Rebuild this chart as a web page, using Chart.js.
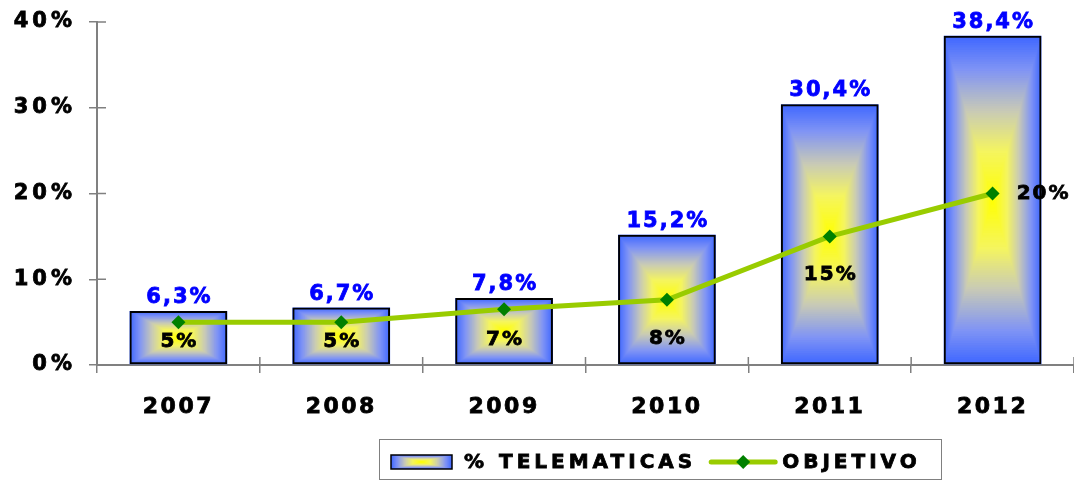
<!DOCTYPE html>
<html>
<head>
<meta charset="utf-8">
<script src="https://cdn.jsdelivr.net/npm/chart.js@4"></script>
<style>
  html, body { margin: 0; padding: 0; background: #fff; }
  canvas { display: block; }
</style>
</head>
<body>
<canvas id="telematicasChart" width="1074" height="480"></canvas>
<script>
const years = ['2007', '2008', '2009', '2010', '2011', '2012'];
const telematicas = [6.3, 6.7, 7.8, 15.2, 30.4, 38.4];
const objetivo = [5, 5, 6.5, 7.6, 15, 20];
const yTickValues = [0, 10, 20, 30, 40];
const seriesNames = ['% TELEMATICAS', 'OBJETIVO'];

const FAMILY = '"DejaVu Sans"';

// colour of the "from centre" fill, t = 0 centre, t = 1 edge
const gradStops = [
  [0, [255, 255, 0]],
  [0.3, [245, 245, 95]],
  [0.55, [200, 202, 182]],
  [0.8, [128, 148, 245]],
  [1, [64, 104, 255]]
];

function gradColor(t) {
  for (let i = 1; i < gradStops.length; i++) {
    if (t <= gradStops[i][0]) {
      const a = gradStops[i - 1], b = gradStops[i];
      const f = (t - a[0]) / (b[0] - a[0]);
      const c = a[1].map((v, k) => Math.round(v + (b[1][k] - v) * f));
      return 'rgb(' + c.join(',') + ')';
    }
  }
  return 'rgb(' + gradStops[gradStops.length - 1][1].join(',') + ')';
}

function paintRectGradient(ctx, left, top, w, h) {
  const cx = left + w / 2, cy = top + h / 2;
  const steps = 70;
  for (let k = steps; k >= 1; k--) {
    const t = k / steps;
    ctx.fillStyle = gradColor(t);
    ctx.fillRect(cx - w / 2 * t, cy - h / 2 * t, w * t, h * t);
  }
}

function fmtBar(v) {
  return v.toFixed(1).replace('.', ',') + '%';
}

function fmtObj(v) {
  return Math.round(v) + '%';
}

// wrap a scale's label drawing so its text gets letter spacing
function spaced(px) {
  return s => {
    if (s._spacedWrap) return;
    s._spacedWrap = true;
    const orig = s.drawLabels;
    s.drawLabels = function (area) {
      this.ctx.save();
      this.ctx.letterSpacing = px;
      orig.call(this, area);
      this.ctx.restore();
    };
  };
}

function noPadding(s) {
  s.paddingTop = 0;
  s.paddingBottom = 0;
  s.paddingLeft = 0;
  s.paddingRight = 0;
}

const barFill = {
  id: 'barFill',
  beforeDatasetDraw(chart, args) {
    if (args.meta.type !== 'bar') return;
    const ctx = chart.ctx;
    ctx.save();
    args.meta.data.forEach(el => {
      const p = el.getProps(['x', 'y', 'base', 'width'], true);
      paintRectGradient(ctx, p.x - p.width / 2, p.y, p.width, p.base - p.y);
    });
    ctx.restore();
  }
};

const innerTicks = {
  id: 'innerTicks',
  beforeDatasetsDraw(chart) {
    const { ctx, scales: { x, y } } = chart;
    ctx.save();
    ctx.strokeStyle = '#808080';
    ctx.lineWidth = 1.5;
    ctx.beginPath();
    y.ticks.forEach((t, i) => {
      const py = y.getPixelForTick(i);
      ctx.moveTo(x.left, py);
      ctx.lineTo(x.left + 9, py);
    });
    const n = x.ticks.length;
    for (let i = 0; i <= n; i++) {
      const px = x.left + i * x.width / n;
      ctx.moveTo(px, y.bottom);
      ctx.lineTo(px, y.bottom - 8);
    }
    ctx.stroke();
    ctx.restore();
  }
};

// where the OBJETIVO labels sit relative to their point
const objLabelPos = [
  { dx: 0, dy: 20 }, { dx: 0, dy: 20 }, { dx: 0, dy: 31 },
  { dx: 0, dy: 39 }, { dx: 0, dy: 38 }, { dx: 50, dy: 0 }
];

const valueLabels = {
  id: 'valueLabels',
  afterDatasetsDraw(chart) {
    const ctx = chart.ctx;
    ctx.save();
    ctx.textAlign = 'center';

    const barMeta = chart.getDatasetMeta(0);
    ctx.letterSpacing = '2px';
    ctx.font = 'bold 21px ' + FAMILY;
    ctx.fillStyle = '#0000ff';
    ctx.textBaseline = 'alphabetic';
    ctx.lineWidth = 0.8;
    ctx.strokeStyle = '#0000ff';
    barMeta.data.forEach((el, i) => {
      const s = fmtBar(telematicas[i]);
      ctx.fillText(s, el.x + 1, el.y - 8);
      ctx.strokeText(s, el.x + 1, el.y - 8);
    });

    const lineMeta = chart.getDatasetMeta(1);
    ctx.letterSpacing = '2px';
    ctx.font = 'bold 20px ' + FAMILY;
    ctx.fillStyle = '#000';
    ctx.strokeStyle = '#000';
    ctx.textBaseline = 'middle';
    lineMeta.data.forEach((el, i) => {
      const pos = objLabelPos[i];
      const s = fmtObj(objetivo[i]);
      ctx.fillText(s, el.x + pos.dx + 1, el.y + pos.dy);
      ctx.strokeText(s, el.x + pos.dx + 1, el.y + pos.dy);
    });
    ctx.restore();
  }
};

const boxLegend = {
  id: 'boxLegend',
  afterDraw(chart, args, opts) {
    const ctx = chart.ctx;
    const ds = chart.data.datasets;
    const cy = opts.top + opts.height / 2 + 3;
    ctx.save();
    ctx.letterSpacing = '4px';
    ctx.font = 'bold 20px ' + FAMILY;
    ctx.textBaseline = 'middle';
    ctx.textAlign = 'left';

    let x = opts.left + 12;
    // bar entry
    paintRectGradient(ctx, x, cy - 7, 61, 14);
    ctx.strokeStyle = '#000';
    ctx.lineWidth = 1.5;
    ctx.strokeRect(x, cy - 7, 61, 14);
    x += 61 + 12;
    ctx.fillStyle = '#000';
    ctx.lineWidth = 0.8;
    ctx.fillText(ds[0].label, x, cy + 1);
    ctx.strokeText(ds[0].label, x, cy + 1);
    x += ctx.measureText(ds[0].label).width + 13;

    // line entry
    ctx.strokeStyle = ds[1].borderColor;
    ctx.lineWidth = ds[1].borderWidth;
    ctx.lineCap = 'round';
    ctx.beginPath();
    ctx.moveTo(x + 2, cy);
    ctx.lineTo(x + 66, cy);
    ctx.stroke();
    ctx.fillStyle = ds[1].pointBackgroundColor;
    ctx.beginPath();
    ctx.moveTo(x + 34, cy - 7);
    ctx.lineTo(x + 41, cy);
    ctx.lineTo(x + 34, cy + 7);
    ctx.lineTo(x + 27, cy);
    ctx.closePath();
    ctx.fill();
    x += 68 + 5;
    ctx.fillStyle = '#000';
    ctx.strokeStyle = '#000';
    ctx.lineWidth = 0.8;
    ctx.fillText(ds[1].label, x, cy + 1);
    ctx.strokeText(ds[1].label, x, cy + 1);
    const right = x + ctx.measureText(ds[1].label).width + 12;

    ctx.strokeStyle = '#808080';
    ctx.lineWidth = 1;
    ctx.strokeRect(opts.left + 0.5, opts.top + 0.5, Math.max(right, 941) - opts.left, opts.height);
    ctx.restore();
  }
};

const ctx = document.getElementById('telematicasChart').getContext('2d');

new Chart(ctx, {
  data: {
    labels: years,
    datasets: [
      {
        type: 'bar',
        label: seriesNames[0],
        data: telematicas,
        backgroundColor: 'rgba(0,0,0,0)',
        borderColor: '#000',
        borderWidth: 2,
        borderSkipped: false,
        barPercentage: 0.6,
        categoryPercentage: 1,
        order: 2
      },
      {
        type: 'line',
        label: seriesNames[1],
        data: objetivo,
        borderColor: '#99cc00',
        borderWidth: 5,
        pointStyle: 'rectRot',
        pointRadius: 7,
        pointBackgroundColor: '#008000',
        pointBorderColor: '#008000',
        pointBorderWidth: 0,
        tension: 0,
        order: 1
      }
    ]
  },
  plugins: [barFill, innerTicks, valueLabels, boxLegend],
  options: {
    responsive: false,
    animation: false,
    devicePixelRatio: 1,
    layout: { autoPadding: false, padding: { top: 22, left: 0, right: 0, bottom: 0 } },
    plugins: {
      legend: { display: false },
      tooltip: { enabled: false },
      boxLegend: { left: 379, top: 439, height: 40 }
    },
    scales: {
      x: {
        offset: true,
        afterFit: s => { s.height = 115; noPadding(s); },
        afterUpdate: spaced('2.5px'),
        border: { color: '#808080', width: 2 },
        grid: { offset: true, drawOnChartArea: false, color: '#808080', lineWidth: 1.5, tickLength: 8 },
        ticks: {
          color: '#000',
          padding: 21,
          textStrokeColor: '#000',
          textStrokeWidth: 0.8,
          font: { family: 'DejaVu Sans', size: 22, weight: 'bold' }
        }
      },
      y: {
        min: 0,
        max: 40,
        afterBuildTicks: s => { s.ticks = yTickValues.map(v => ({ value: v })); },
        afterFit: s => { s.width = 97; noPadding(s); },
        afterUpdate: spaced('4px'),
        border: { color: '#808080', width: 2 },
        grid: { drawOnChartArea: false, color: '#808080', lineWidth: 1.5, tickLength: 8 },
        ticks: {
          color: '#000',
          padding: 13,
          textStrokeColor: '#000',
          textStrokeWidth: 0.8,
          font: { family: 'DejaVu Sans', size: 21, weight: 'bold' },
          callback: v => v + '%'
        }
      }
    }
  }
});
</script>
</body>
</html>
